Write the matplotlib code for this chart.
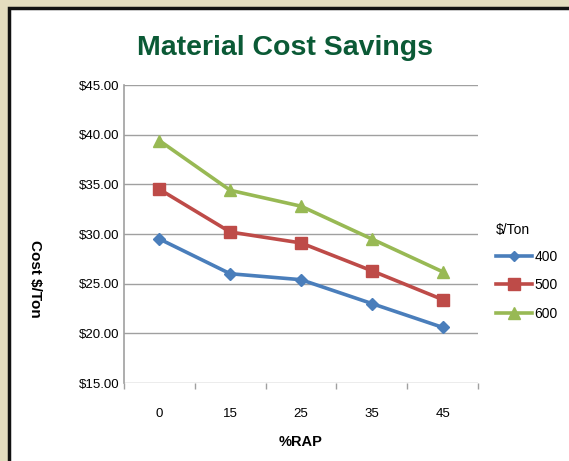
import matplotlib
matplotlib.use("Agg")
import matplotlib.pyplot as plt
from matplotlib.patches import Rectangle

categories = ["0", "15", "25", "35", "45"]
series_names = ["400", "500", "600"]
cost_400 = [29.5, 26.0, 25.4, 23.0, 20.6]
cost_500 = [34.5, 30.2, 29.1, 26.3, 23.4]
cost_600 = [39.4, 34.4, 32.8, 29.5, 26.2]
y_ticks = [15, 20, 25, 30, 35, 40, 45]

colors = ["#4A7EBB", "#BE4B48", "#98B954"]
markers = ["D", "s", "^"]
msizes = [6, 9, 9]

plt.rcParams['font.family'] = ['Liberation Sans', 'DejaVu Sans']

W, H = 569, 461
fig = plt.figure(figsize=(W / 100, H / 100), dpi=100)
fig.patch.set_facecolor("#E3DCBF")
# white panel with black border
fig.patches.append(Rectangle((8.5 / W, -0.01), 1 - 8.5 / W + 0.01, 1.01 - 7.5 / H,
                             transform=fig.transFigure, facecolor="white",
                             edgecolor="#111111", linewidth=2.5, zorder=-5))

ax = fig.add_axes([124 / W, 1 - 383 / H, (478 - 124) / W, (383 - 85) / H])
ax.set_zorder(2)
ax.set_facecolor("none")
x = list(range(len(categories)))
for vals, name, c, m, ms in zip([cost_400, cost_500, cost_600], series_names, colors, markers, msizes):
    ax.plot(x, vals, color=c, marker=m, markersize=ms, linewidth=2.6, label=name,
            markeredgecolor=c, zorder=3)

ax.set_xlim(-0.5, len(categories) - 0.5)
ax.set_ylim(15, 45)
ax.set_yticks(y_ticks)
ax.set_yticklabels([f"${v:.2f}" for v in y_ticks], fontsize=9.5)
ax.set_xticks(x)
ax.set_xticklabels(categories, fontsize=9.5)
ax.tick_params(axis='x', length=0, pad=18)
ax.tick_params(axis='y', length=0, pad=3)
# category boundary ticks
ax.set_xticks([i + 0.5 for i in range(-1, len(categories))], minor=True)
ax.tick_params(axis='x', which='minor', length=4, color="#A0A0A0", width=1)
ax.grid(axis='y', color="#A0A0A0", linewidth=1)
for s in ["top", "right", "bottom"]:
    ax.spines[s].set_visible(False)
ax.spines["left"].set_color("#A0A0A0")
ax.spines["left"].set_linewidth(1.2)

fig.text(285 / W, 1 - 48 / H, "Material Cost Savings", ha="center", va="center",
         fontsize=20.5, fontweight="bold", color="#0B5A36")
fig.text(35 / W, 1 - 279 / H, "Cost $/Ton", ha="center", va="center",
         rotation=-90, fontsize=11, fontweight="bold")
fig.text(301 / W, 1 - 442 / H, "%RAP", ha="center", va="center",
         fontsize=10.5, fontweight="bold")

leg = ax.legend(loc="center left", bbox_to_anchor=(483 / W, 1 - 272 / H),
                bbox_transform=fig.transFigure, frameon=False, title="$/Ton",
                fontsize=10, title_fontsize=10, handlelength=2.6,
                handletextpad=0.2, labelspacing=1.05, markerscale=0.9)
leg._legend_box.align = "left"
leg._legend_box.sep = 9

fig.savefig("out.png", dpi=100, facecolor=fig.get_facecolor())
